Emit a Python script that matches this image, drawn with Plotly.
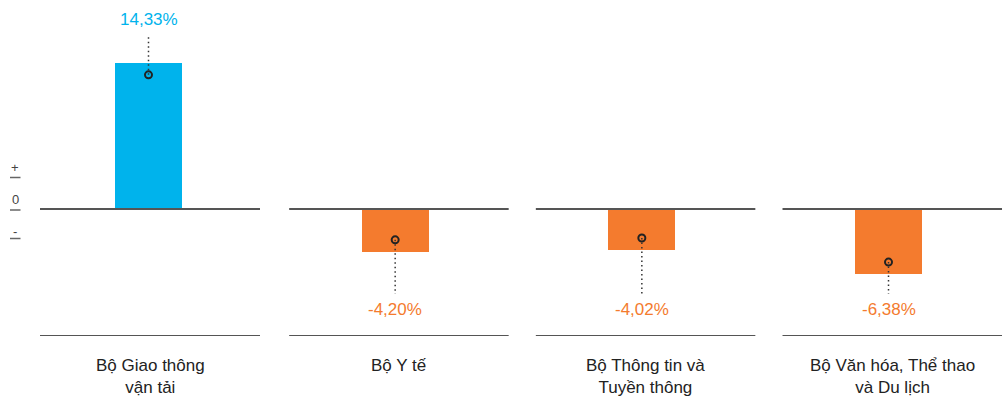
import plotly.graph_objects as go

categories = ["Bộ Giao thông<br>vận tải", "Bộ Y tế", "Bộ Thông tin và<br>Tuyền thông", "Bộ Văn hóa, Thể thao<br>và Du lịch"]
values = [14.33, -4.20, -4.02, -6.38]
value_labels = ["14,33%", "-4,20%", "-4,02%", "-6,38%"]

BLUE = "#00B3EC"
ORANGE = "#F47B2E"
LINE = "#555555"
FONT = "Liberation Sans, Arial, sans-serif"

W, H = 1003, 399
PLOT_H = 336
PX_PER_UNIT = 10.2
ZERO_PX = 209  # from top
y_top = ZERO_PX / PX_PER_UNIT
y_bot = -(PLOT_H - ZERO_PX) / PX_PER_UNIT

SPACING = 246.67
FIRST = 148.5
x_lo = -FIRST / SPACING
x_hi = (W - FIRST) / SPACING
bar_w = 67 / SPACING

xs = list(range(len(values)))
colors = [BLUE if v >= 0 else ORANGE for v in values]
off = 12 / PX_PER_UNIT
marker_y = [v - (off if v >= 0 else -off) for v in values]


def py(p):
    """pixel-from-top -> paper y"""
    return (PLOT_H - p) / PLOT_H


fig = go.Figure()
fig.add_trace(go.Bar(x=xs, y=values, width=bar_w, marker=dict(color=colors, line=dict(width=0)),
                     hoverinfo="skip", showlegend=False))

shapes = []
annotations = []
pos_label_y = (ZERO_PX - 19) / PX_PER_UNIT
neg_label_y = -(309 - ZERO_PX) / PX_PER_UNIT
pos_dot_end = (ZERO_PX - 35) / PX_PER_UNIT
neg_dot_end = -(294 - ZERO_PX) / PX_PER_UNIT

for i, (x, v) in enumerate(zip(xs, values)):
    left = x - (108.5 if i == 0 else 106.0) / SPACING
    right = x + (111.5 if i == 0 else 113.5) / SPACING
    shapes.append(dict(type="line", xref="x", yref="y", x0=left, x1=right, y0=0, y1=0,
                       line=dict(color=LINE, width=2), layer="above"))
    shapes.append(dict(type="line", xref="x", yref="y", x0=left, x1=right, y0=y_bot, y1=y_bot,
                       line=dict(color=LINE, width=2), layer="above"))
    end = pos_dot_end if v >= 0 else neg_dot_end
    shapes.append(dict(type="line", xref="x", yref="y", x0=x, x1=x, y0=marker_y[i], y1=end,
                       line=dict(color="#333", width=1.5, dash="1.5px,3px"), layer="above"))
    annotations.append(dict(x=x, y=pos_label_y if v >= 0 else neg_label_y, xref="x", yref="y",
                            text=value_labels[i], showarrow=False, xanchor="center",
                            font=dict(family=FONT, size=17, color=colors[i])))
    annotations.append(dict(x=(left + right) / 2, y=py(354), xref="x", yref="paper",
                            text=categories[i], showarrow=False, yanchor="top", xanchor="center",
                            font=dict(family=FONT, size=17, color="#222")))

fig.add_trace(go.Scatter(x=xs, y=marker_y, mode="markers",
                         marker=dict(symbol="circle-open", size=7, color="#222", line=dict(width=2)),
                         hoverinfo="skip", showlegend=False))

# left +/0/- indicator
for txt, ty, ly in [("+", 167, 177.5), ("0", 199, 210), ("-", 231, 238.5)]:
    annotations.append(dict(x=15 / W, y=py(ty), xref="paper", yref="paper", text=txt, showarrow=False,
                            xanchor="center", yanchor="middle",
                            font=dict(family=FONT, size=13, color="#444")))
    shapes.append(dict(type="line", xref="paper", yref="paper", x0=10 / W, x1=20.5 / W,
                       y0=py(ly), y1=py(ly), line=dict(color="#666", width=1.5)))

fig.update_layout(
    width=W, height=H, margin=dict(l=0, r=0, t=0, b=H - PLOT_H),
    paper_bgcolor="white", plot_bgcolor="white",
    xaxis=dict(range=[x_lo, x_hi], visible=False, fixedrange=True),
    yaxis=dict(range=[y_bot, y_top], visible=False, fixedrange=True),
    shapes=shapes, annotations=annotations, bargap=0,
)
fig.write_html("out.html", config={"displayModeBar": False})
